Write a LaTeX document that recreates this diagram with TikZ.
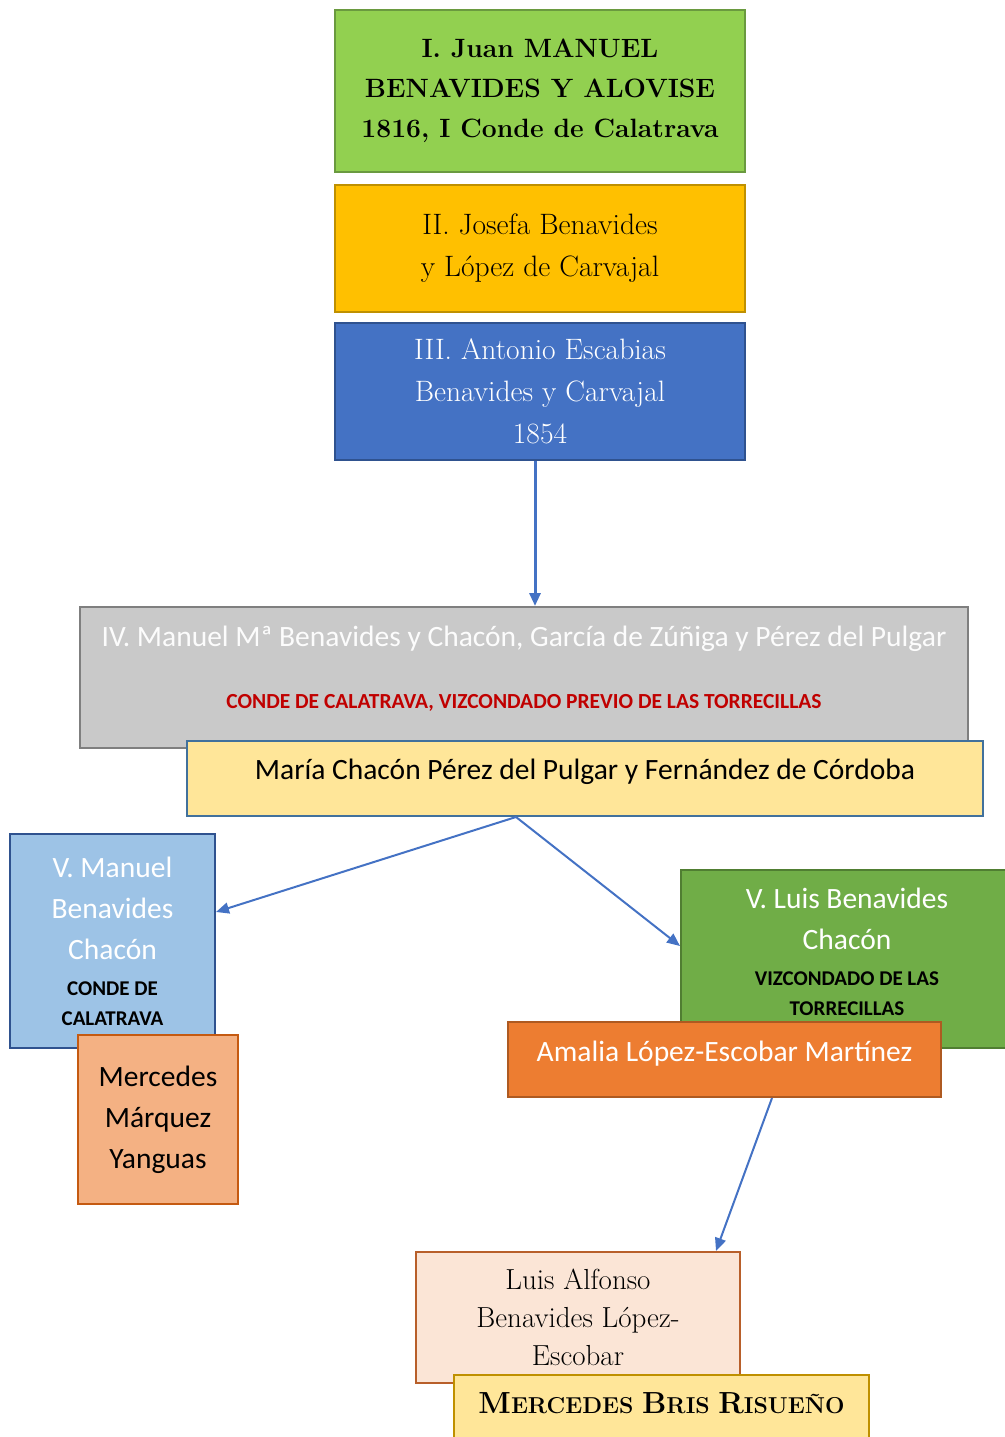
\documentclass[tikz,border=0pt]{standalone}
\usepackage{fontspec}
\newfontfamily\calfont{Carlito}
\usetikzlibrary{arrows.meta}
\definecolor{verdeI}{HTML}{92D050}
\definecolor{verdeIb}{HTML}{6A9A3F}
\definecolor{oro}{HTML}{FFC000}
\definecolor{orob}{HTML}{BF9000}
\definecolor{azul}{HTML}{4472C4}
\definecolor{azulb}{HTML}{2F528F}
\definecolor{gris}{HTML}{C9C9C9}
\definecolor{grisb}{HTML}{7F7F7F}
\definecolor{crema}{HTML}{FFE699}
\definecolor{cremab}{HTML}{41719C}
\definecolor{celeste}{HTML}{9DC3E6}
\definecolor{salmon}{HTML}{F4B183}
\definecolor{salmonb}{HTML}{C55A11}
\definecolor{verdeV}{HTML}{70AD47}
\definecolor{verdeVb}{HTML}{507E32}
\definecolor{naranja}{HTML}{ED7D31}
\definecolor{naranjab}{HTML}{AE5A21}
\definecolor{rosa}{HTML}{FBE5D6}
\definecolor{rosab}{HTML}{B85F2A}
\definecolor{rojo}{HTML}{C00000}
\begin{document}
\begin{tikzpicture}[x=1pt,y=-1pt,
    caja/.style={draw, line width=2pt, align=center, inner sep=0pt},
    serif/.style={font=\fontsize{29.5}{42}\selectfont},
    sans/.style={font=\calfont\fontsize{29.5}{41}\selectfont},
    flecha/.style={draw=azul, line width=2pt, -{Triangle[length=13pt,width=11pt]}}]
  \useasboundingbox (0,0) rectangle (1004,1437);

  \node[caja, fill=verdeI, draw=verdeIb, minimum width=410, minimum height=162,
    font=\fontsize{26.5}{40}\selectfont\bfseries] (i) at (540,91)
    {I. Juan MANUEL\\BENAVIDES Y ALOVISE\\1816, I Conde de Calatrava};
  \node[caja, serif, fill=oro, draw=orob, minimum width=410, minimum height=127] (ii) at (540,248.5)
    {II. Josefa Benavides\\y López de Carvajal};
  \node[caja, serif, fill=azul, draw=azulb, text=white, minimum width=410, minimum height=137] (iii) at (540,391.5)
    {III. Antonio Escabias\\Benavides y Carvajal\\1854};

  \node[caja, sans, fill=gris, draw=grisb, text=white!95!gris, minimum width=888, minimum height=141,
    text depth=20pt] (iv) at (524,677.5)
    {IV. Manuel Mª Benavides y Chacón, García de Zúñiga y Pérez del Pulgar\\[21pt]
     {\fontsize{21.5}{22}\selectfont\bfseries\color{rojo}CONDE DE CALATRAVA, VIZCONDADO PREVIO DE LAS TORRECILLAS}};
  \node[caja, sans, fill=crema, draw=cremab, minimum width=796, minimum height=75,
    text depth=18pt] (maria) at (585,778.5)
    {María Chacón Pérez del Pulgar y Fernández de Córdoba};

  \node[caja, sans, fill=celeste, draw=azulb, text=white, minimum width=205, minimum height=214] (vmanuel) at (112.5,941)
    {V. Manuel\\Benavides\\Chacón\\[-5pt]
     {\fontsize{21}{22}\selectfont\bfseries\color{black}CONDE DE}\\[-11pt]
     {\fontsize{21}{22}\selectfont\bfseries\color{black}CALATRAVA}};
  \node[caja, sans, fill=salmon, draw=salmonb, minimum width=160, minimum height=169] (mmarquez) at (158,1119.5)
    {Mercedes\\Márquez\\Yanguas};

  \node[caja, sans, fill=verdeV, draw=verdeVb, text=white, minimum width=332, minimum height=178,
    text depth=14pt] (vluis) at (847,959)
    {V. Luis Benavides\\Chacón\\[-5pt]
     {\fontsize{21}{22}\selectfont\bfseries\color{black}VIZCONDADO DE LAS}\\[-11pt]
     {\fontsize{21}{22}\selectfont\bfseries\color{black}TORRECILLAS}};
  \node[caja, sans, fill=naranja, draw=naranjab, text=white, minimum width=433, minimum height=75,
    text depth=16pt] (amalia) at (724.5,1059.5)
    {Amalia López-Escobar Martínez};

  \node[caja, font=\fontsize{29}{38}\selectfont, fill=rosa, draw=rosab, minimum width=324, minimum height=131] (luisalfonso) at (578,1317.5)
    {Luis Alfonso\\Benavides López-\\Escobar};
  \node[caja, font=\bfseries, fill=crema, draw=orob, minimum width=415, minimum height=72,
    text depth=16pt] (mbris) at (661.5,1411)
    {\fontsize{30.5}{30}\selectfont M\fontsize{23}{30}\selectfont ERCEDES
     \fontsize{30.5}{30}\selectfont B\fontsize{23}{30}\selectfont RIS
     \fontsize{30.5}{30}\selectfont R\fontsize{23}{30}\selectfont ISUEÑO};

  \draw[flecha, line width=3pt] ([xshift=-5pt]iii.south) -- ([xshift=-5pt]iii.south |- iv.north);
  \draw[flecha] ([xshift=-69pt]maria.south) -- ([yshift=29pt]vmanuel.east);
  \draw[flecha] ([xshift=-69pt]maria.south) -- ([yshift=13pt]vluis.west);
  \draw[flecha] ([xshift=47.5pt]amalia.south) -- ([xshift=138pt]luisalfonso.north);
\end{tikzpicture}
\end{document}
